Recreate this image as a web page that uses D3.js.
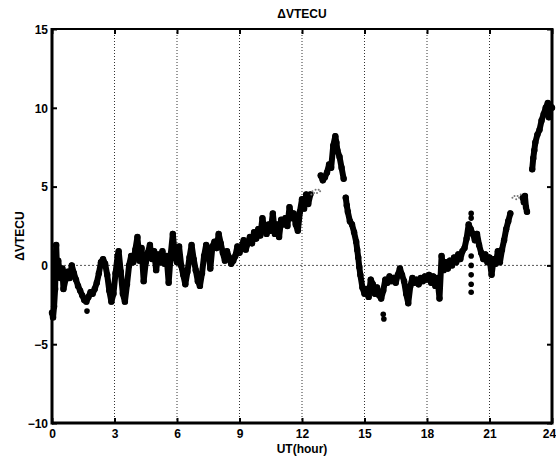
<!DOCTYPE HTML>
<html>
<head>
<meta charset='utf-8'>
<title>ΔVTECU</title>
<script src='https://d3js.org/d3.v7.min.js'></script>
<style>
  body {margin:0; background:#fff;}
  .lbl {font-family:'Liberation Sans',Arial,sans-serif; font-weight:bold; font-size:12px; fill:#000;}
  .tick text {font-family:'Liberation Sans',Arial,sans-serif; font-weight:bold; font-size:12px; fill:#000;}
</style>
</head>
<body>
<svg id='chart'></svg>
<script>
  // UT hours and ΔVTEC values (null = gap in the record)
  var hours=[0,0.05,0.1,0.15,0.2,0.25,0.3,0.4,0.5,0.55,0.65,0.75,0.85,0.95,1.05,1.15,1.25,1.35,1.45,1.55,1.65,1.75,1.85,1.95,2.05,2.15,2.25,2.35,2.45,2.55,2.65,2.75,2.85,2.95,
    3.05,3.15,3.2,3.3,3.4,3.5,3.6,3.7,3.8,3.9,4.0,4.1,4.2,4.3,4.4,4.5,4.6,4.7,4.8,4.9,5.0,5.1,5.2,5.3,5.4,5.5,5.6,5.7,5.8,5.9,
    6.0,6.1,6.2,6.3,6.4,6.5,6.6,6.7,6.8,6.9,7.0,7.1,7.2,7.3,7.4,7.5,7.6,7.7,7.8,7.9,8.0,8.1,8.2,8.3,8.4,8.5,8.6,8.7,8.8,8.9,
    9.0,9.1,9.2,9.3,9.4,9.5,9.6,9.7,9.8,9.9,10.0,10.1,10.2,10.3,10.4,10.5,10.6,10.7,10.8,10.9,11.0,11.1,11.2,11.3,11.4,11.5,11.6,11.7,11.8,11.9,12.0,12.1,12.2,12.3,12.4,
    12.6,
    12.9,13.0,13.1,13.2,13.3,13.4,13.5,13.6,13.65,13.7,13.8,13.9,14.0,
    14.05,
    14.1,14.15,14.2,14.3,14.4,14.5,14.6,14.65,14.7,14.75,14.8,14.9,
    15.0,15.1,15.2,15.3,15.4,15.5,15.6,15.7,15.8,15.9,16.0,16.1,16.2,16.3,16.4,16.5,16.6,16.7,16.8,16.9,
    17.0,17.1,17.2,17.3,17.4,17.5,17.6,17.7,17.8,17.9,18.0,18.1,18.2,18.3,18.4,18.5,18.6,18.7,18.8,18.9,
    19.0,19.1,19.2,19.3,19.4,19.5,19.6,19.7,19.8,19.9,20.0,20.1,20.2,20.3,20.4,20.5,20.6,20.7,20.8,20.9,
    21.0,21.1,21.2,21.3,21.4,21.5,21.6,21.7,21.8,21.9,22.0,
    22.3,
    22.6,22.65,22.7,22.75,22.8,
    22.9,
    23.05,23.1,23.15,23.2,23.3,23.4,23.5,23.6,23.7,23.8,23.85,23.9,24.0];
  var dvtecu=[-3.0,-3.3,-2.6,-1.5,1.3,-0.5,0.3,-0.8,-0.2,-1.5,-0.9,-0.4,-0.8,0.0,-0.5,-0.9,-1.3,-1.6,-1.9,-2.2,-2.3,-2.0,-1.7,-1.8,-1.5,-1.1,-0.5,0.2,0.4,0.1,-0.6,-1.6,-2.3,-1.8,
    -0.5,0.6,0.9,-0.4,-1.8,-2.3,-1.2,0.0,0.6,0.2,1.0,1.8,0.3,1.1,-1.0,0.2,0.8,1.3,0.4,0.9,-0.3,0.7,0.2,0.9,0.1,0.6,-1.1,0.7,2.0,0.6,
    0.2,1.2,0.0,-0.6,-1.2,-0.4,0.5,1.3,0.4,-0.3,-1.0,-1.3,-0.5,0.6,1.3,1.0,-0.2,1.2,1.5,1.1,2.0,1.4,0.8,0.3,0.9,0.5,0.1,0.3,0.6,1.2,
    0.8,1.2,1.6,1.0,1.4,1.8,1.4,2.1,1.7,2.3,1.9,3.0,2.3,2.0,2.6,2.2,3.3,2.0,2.6,1.8,2.9,2.6,3.0,2.5,3.7,3.0,3.3,2.6,2.2,3.4,4.2,3.6,4.5,3.9,4.5,
    null,
    5.7,5.4,5.6,5.9,6.4,6.2,7.6,8.2,7.8,7.3,6.9,6.2,5.5,
    null,
    4.3,3.8,3.4,2.8,2.6,2.1,1.5,1.0,0.5,-0.1,-0.6,-1.4,
    -1.8,-1.5,-2.0,-0.9,-1.2,-1.8,-1.4,-1.9,-2.1,-1.6,-0.9,-1.1,-0.7,-1.0,-0.8,-1.1,-0.6,-0.2,-0.6,-1.0,
    -1.8,-2.4,-1.3,-0.8,-1.1,-0.9,-1.2,-0.8,-1.0,-0.7,-0.9,-0.6,-1.1,-0.7,-1.3,-0.8,-2.1,0.6,-0.3,0.2,
    -0.2,0.3,0.0,0.5,0.2,0.7,0.4,0.9,1.1,1.7,2.6,2.3,2.0,1.6,2.0,1.3,0.8,0.4,0.7,0.2,
    0.5,-0.6,0.4,0.1,0.9,0.2,1.0,1.6,2.3,2.8,3.3,
    null,
    4.3,4.0,4.4,3.7,3.4,
    null,
    6.1,6.8,7.3,7.8,8.3,8.6,9.2,9.6,10.0,10.3,9.4,10.2,10.0];
  // single scattered samples
  var loneHours=[1.68,15.9,15.93,20.12,20.12,20.12,20.12,20.12,20.12,20.12];
  var loneVals=[-2.9,-3.1,-3.4,3.3,3.0,0.6,0.0,-0.6,-1.2,-1.7];
  // faint sparse samples
  var faintHours=[12.45,12.5,12.58,12.65,12.72,12.8,12.87,22.1,22.2,22.28,22.35,22.42,22.5];
  var faintVals=[4.5,4.7,4.6,4.8,4.6,4.8,4.7,4.3,4.4,4.2,4.4,4.3,4.5];
  var xTicks=[0,3,6,9,12,15,18,21,24], yTicks=[-10,-5,0,5,10,15];

  var width=556, height=459,
      margin={top:29,right:4,bottom:36,left:52};
  var svg=d3.select('#chart').attr('width',width).attr('height',height);
  var x=d3.scaleLinear().domain([0,24]).range([margin.left,width-margin.right]),
      y=d3.scaleLinear().domain([-10,15]).range([height-margin.bottom,margin.top]);

  // grid: dotted verticals and the zero line
  svg.append('g').selectAll('line').data(xTicks.slice(1,-1)).join('line')
     .attr('x1',d=>x(d)).attr('x2',d=>x(d)).attr('y1',y(15)).attr('y2',y(-10))
     .attr('stroke','#333').attr('stroke-width',1).attr('stroke-dasharray','1,2');
  svg.append('line').attr('x1',x(0)).attr('x2',x(24)).attr('y1',y(0)).attr('y2',y(0))
     .attr('stroke','#555').attr('stroke-width',1).attr('stroke-dasharray','2,2');

  var pts=hours.map((h,i)=>({h:h,v:dvtecu[i]}));
  var line=d3.line().defined(d=>d.v!==null).x(d=>x(d.h)).y(d=>y(d.v));
  svg.append('path').datum(pts).attr('d',line)
     .attr('fill','none').attr('stroke','#000').attr('stroke-width',6)
     .attr('stroke-linejoin','round').attr('stroke-linecap','round');
  svg.append('g').selectAll('circle').data(pts.filter(d=>d.v!==null)).join('circle')
     .attr('cx',d=>x(d.h)).attr('cy',d=>y(d.v)).attr('r',3.2).attr('fill','#000');
  svg.append('g').selectAll('circle').data(loneHours).join('circle')
     .attr('cx',d=>x(d)).attr('cy',(d,i)=>y(loneVals[i])).attr('r',2.8).attr('fill','#000');
  svg.append('g').selectAll('circle').data(faintHours).join('circle')
     .attr('cx',d=>x(d)).attr('cy',(d,i)=>y(faintVals[i])).attr('r',1).attr('fill','#777');

  // axes with inward ticks
  var gx=svg.append('g').attr('transform',`translate(0,${y(-10)})`)
     .call(d3.axisBottom(x).tickValues(xTicks).tickSize(-5).tickPadding(6));
  var gxt=svg.append('g').attr('transform',`translate(0,${y(15)})`)
     .call(d3.axisTop(x).tickValues(xTicks).tickSize(-5).tickFormat(''));
  var gy=svg.append('g').attr('transform',`translate(${x(0)},0)`)
     .call(d3.axisLeft(y).tickValues(yTicks).tickSize(-5).tickPadding(4));
  var gyr=svg.append('g').attr('transform',`translate(${x(24)},0)`)
     .call(d3.axisRight(y).tickValues(yTicks).tickSize(-5).tickFormat(''));
  [gx,gxt,gy,gyr].forEach(g=>{
    g.select('.domain').remove();
    g.selectAll('.tick line').attr('stroke','#000').attr('stroke-width',2);
  });
  gy.selectAll('.tick text').attr('dy','0.35em');
  gx.selectAll('.tick text').filter(d=>d===24).attr('dx',-3);

  // frame
  svg.append('line').attr('x1',x(0)).attr('x2',x(0)).attr('y1',y(15)-1).attr('y2',y(-10)+1.5)
     .attr('stroke','#000').attr('stroke-width',3);
  svg.append('line').attr('x1',x(0)).attr('x2',x(24)).attr('y1',y(-10)).attr('y2',y(-10))
     .attr('stroke','#000').attr('stroke-width',3);
  svg.append('line').attr('x1',x(0)).attr('x2',x(24)).attr('y1',y(15)).attr('y2',y(15))
     .attr('stroke','#000').attr('stroke-width',2);
  svg.append('line').attr('x1',x(24)).attr('x2',x(24)).attr('y1',y(15)-1).attr('y2',y(-10)+1.5)
     .attr('stroke','#000').attr('stroke-width',3);

  svg.append('text').attr('class','lbl').attr('x',x(12)).attr('y',18)
     .attr('text-anchor','middle').text('ΔVTECU');
  svg.append('text').attr('class','lbl').attr('x',x(12)).attr('y',453)
     .attr('text-anchor','middle').text('UT(hour)');
  svg.append('text').attr('class','lbl')
     .attr('transform',`translate(24,236) rotate(-90)`)
     .attr('text-anchor','middle').text('ΔVTECU');
</script>
</body>
</html>
